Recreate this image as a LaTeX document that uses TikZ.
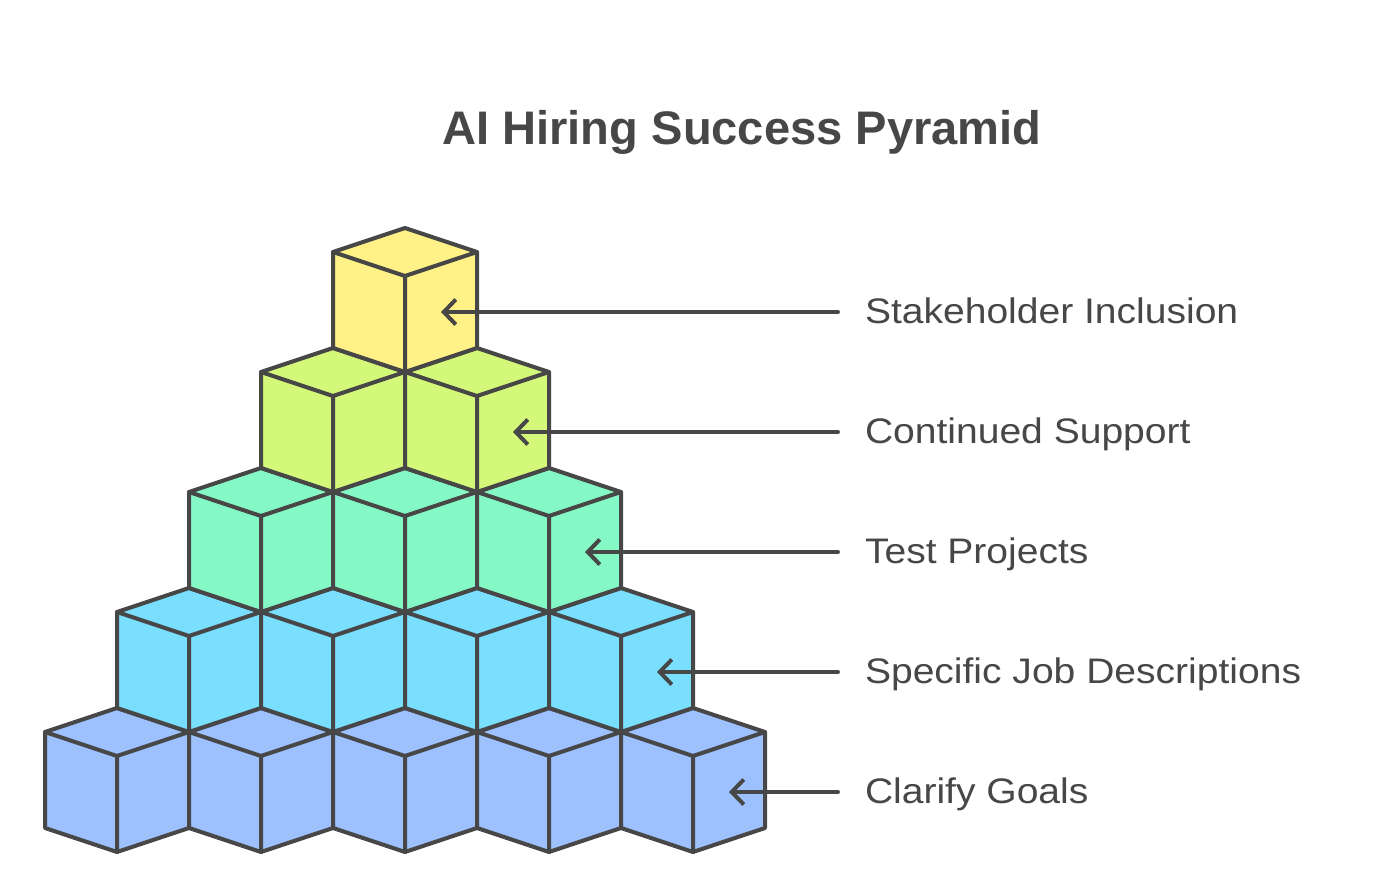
\documentclass[tikz,border=0pt]{standalone}
\usepackage{fontspec}
\setmainfont{Liberation Sans}
\newfontfamily\labelfont[FakeStretch=1.1]{Liberation Sans}
\usetikzlibrary{arrows.meta}
\definecolor{edgegray}{HTML}{474747}
\definecolor{goalblue}{HTML}{9DC0FE}
\definecolor{jobcyan}{HTML}{7ADFFE}
\definecolor{testgreen}{HTML}{85F9C5}
\definecolor{supportlime}{HTML}{D3F87A}
\definecolor{stakeyellow}{HTML}{FFF185}
\begin{document}
\begin{tikzpicture}[x=0.02cm, y=-0.02cm, line join=round, line cap=round,
    line width=0.08cm, draw=edgegray,
    >={Straight Barb[length=0.24cm, width=0.5cm]},
    lbl/.style={anchor=base west, inner xsep=0.5cm, inner ysep=0pt, font=\labelfont\fontsize{20.2}{24}\selectfont, text=edgegray}]
    \useasboundingbox (0,0) rectangle (1386,869);
    \node[anchor=base, font=\bfseries\fontsize{26.8}{32}\selectfont, text=edgegray] (title) at (742,144) {AI Hiring Success Pyramid};
    % rows of cubes, bottom to top
    \foreach \r/\col/\txt in {0/goalblue/Clarify Goals, 1/jobcyan/Specific Job Descriptions, 2/testgreen/Test Projects, 3/supportlime/Continued Support, 4/stakeyellow/Stakeholder Inclusion} {
        \pgfmathtruncatemacro\n{4-\r}
        \pgfmathsetmacro\ty{708-120*\r}
        \foreach \k in {0,...,\n} {
            \pgfmathsetmacro\cx{117+72*\r+144*\k}
            \draw[fill=\col] (\cx-72,\ty+24) -- (\cx,\ty) -- (\cx+72,\ty+24) -- (\cx+72,\ty+120) -- (\cx,\ty+144) -- (\cx-72,\ty+120) -- cycle;
            \draw (\cx-72,\ty+24) -- (\cx,\ty+48) -- (\cx+72,\ty+24) (\cx,\ty+48) -- (\cx,\ty+144);
        }
        \coordinate (t\r) at (729-72*\r,792-120*\r);
        \node[lbl] (l\r) at (838,803-120*\r) {\txt};
        \draw[->] (l\r.west |- t\r) -- (t\r);
    }
\end{tikzpicture}
\end{document}
